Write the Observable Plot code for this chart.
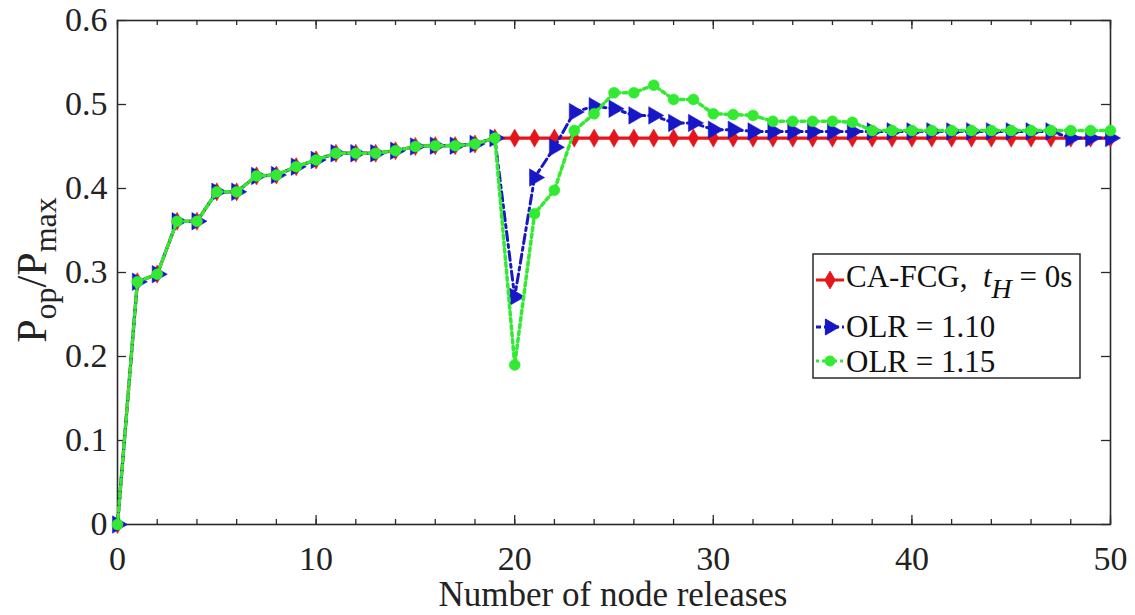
<!DOCTYPE html>
<html>
<head>
<meta charset="utf-8">
<script src="https://cdn.jsdelivr.net/npm/d3@7"></script>
<script src="https://cdn.jsdelivr.net/npm/@observablehq/plot@0.6"></script>
<style>
  html, body { margin: 0; padding: 0; background: #fff; }
  svg { display: block; }
  svg text { font-family: 'Liberation Serif', 'Times New Roman', serif; }
</style>
</head>
<body>
<div id="chart"></div>
<script>
// Number of node releases (x categories)
const releases = [0,1,2,3,4,5,6,7,8,9,10,11,12,13,14,15,16,17,18,19,20,21,22,23,24,25,26,27,28,29,30,31,32,33,34,35,36,37,38,39,40,41,42,43,44,45,46,47,48,49,50];

// CA-FCG, t_H = 0s
const caFcg = [0,0.289,0.298,0.361,0.361,0.396,0.396,0.415,0.416,0.426,0.434,0.442,0.442,0.442,0.445,0.450,0.451,0.451,0.453,0.460,
  0.460,0.460,0.460,0.460,0.460,0.460,0.460,0.460,0.460,0.460,0.460,0.460,0.460,0.460,0.460,0.460,0.460,0.460,0.460,0.460,
  0.460,0.460,0.460,0.460,0.460,0.460,0.460,0.460,0.460,0.460,0.460];

// OLR = 1.10
const olr110 = [0,0.289,0.298,0.361,0.361,0.396,0.396,0.415,0.416,0.426,0.434,0.442,0.442,0.442,0.445,0.450,0.451,0.451,0.453,0.460,
  0.271,0.413,0.449,0.491,0.498,0.495,0.487,0.487,0.478,0.478,0.470,0.470,0.468,0.468,0.468,0.468,0.468,0.468,0.468,0.468,
  0.468,0.468,0.468,0.468,0.468,0.468,0.468,0.468,0.460,0.460,0.460];

// OLR = 1.15
const olr115 = [0,0.289,0.298,0.361,0.361,0.396,0.396,0.415,0.416,0.426,0.434,0.442,0.442,0.442,0.445,0.450,0.451,0.451,0.453,0.460,
  0.190,0.370,0.398,0.469,0.489,0.514,0.514,0.523,0.506,0.506,0.489,0.488,0.487,0.480,0.480,0.480,0.480,0.479,0.469,0.469,
  0.469,0.469,0.469,0.469,0.469,0.469,0.469,0.469,0.469,0.469,0.469];

const xMinorTicks = [0,2,4,6,8,10,12,14,16,18,20,22,24,26,28,30,32,34,36,38,40,42,44,46,48,50];
const xMajorTicks = [0,10,20,30,40,50];
const yTicks = [0,0.1,0.2,0.3,0.4,0.5,0.6];
const yTickLabels = ["0","0.1","0.2","0.3","0.4","0.5","0.6"];

const seriesNames = ["CA-FCG", "OLR = 1.10", "OLR = 1.15"];
const RED = "#e3161b", BLUE = "#1717c8", GREEN = "#33ea33";

const toRows = (vals) => releases.map((x, i) => ({x, y: vals[i]}));
const redRows = toRows(caFcg), blueRows = toRows(olr110), greenRows = toRows(olr115);

const FONT = "'Liberation Serif', 'Times New Roman', serif";
const W = 1135, H = 615, ML = 117, MR = 25, MT = 20, MB = 91;
const PW = W - ML - MR, PH = H - MT - MB;

const plot = Plot.plot({
  width: W,
  height: H,
  marginLeft: ML,
  marginRight: MR,
  marginTop: MT,
  marginBottom: MB,
  style: `font-family: ${FONT}; font-size: 34px; color: #222; background: #fff;`,
  x: {domain: [0, 50]},
  y: {domain: [0, 0.6]},
  marks: [
    // tick labels
    Plot.axisX(xMajorTicks, {anchor: "bottom", tickSize: 0, tickPadding: 21, tickFormat: d => String(d), label: null, fontSize: 34, fontFamily: FONT, fill: "#222"}),
    Plot.axisY(yTicks, {anchor: "left", tickSize: 0, tickPadding: 10, tickFormat: (d, i) => yTickLabels[i], label: null, fontSize: 34, fontFamily: FONT, fill: "#222"}),
    // inward tick marks on all four sides
    Plot.tickX(xMinorTicks, {x: d => d, stroke: "#2a2a2a", strokeWidth: 1.3, insetTop: PH - 5}),
    Plot.tickX(xMinorTicks, {x: d => d, stroke: "#2a2a2a", strokeWidth: 1.3, insetBottom: PH - 5}),
    Plot.tickX(xMajorTicks, {x: d => d, stroke: "#2a2a2a", strokeWidth: 1.3, insetTop: PH - 9}),
    Plot.tickX(xMajorTicks, {x: d => d, stroke: "#2a2a2a", strokeWidth: 1.3, insetBottom: PH - 9}),
    Plot.tickY(yTicks, {y: d => d, stroke: "#2a2a2a", strokeWidth: 1.3, insetRight: PW - 9}),
    Plot.tickY(yTicks, {y: d => d, stroke: "#2a2a2a", strokeWidth: 1.3, insetLeft: PW - 9}),
    Plot.frame({stroke: "#2a2a2a", strokeWidth: 1.6}),
    // CA-FCG
    Plot.line(redRows, {x: "x", y: "y", stroke: RED, strokeWidth: 3.2}),
    Plot.dot(redRows, {x: "x", y: "y", symbol: "diamond", r: 5.5, fill: RED, stroke: RED, strokeWidth: 0.5}),
    // OLR = 1.10
    Plot.line(blueRows, {x: "x", y: "y", stroke: BLUE, strokeWidth: 3, strokeDasharray: "9,4,3,4"}),
    Plot.dot(blueRows, {x: "x", y: "y", symbol: "triangle", rotate: 90, r: 6.5, fill: BLUE, stroke: BLUE, strokeWidth: 0.5}),
    // OLR = 1.15
    Plot.line(greenRows, {x: "x", y: "y", stroke: GREEN, strokeWidth: 3.5, strokeDasharray: "3.5,3.5"}),
    Plot.dot(greenRows, {x: "x", y: "y", symbol: "circle", r: 5.5, fill: GREEN, stroke: GREEN, strokeWidth: 0.5})
  ]
});

document.getElementById("chart").appendChild(plot);

// Axis titles
const svg = d3.select(plot);
svg.append("text")
  .attr("x", 613).attr("y", 606)
  .attr("text-anchor", "middle")
  .style("font-family", FONT).style("font-size", "35px").attr("fill", "#222")
  .text("Number of node releases");

const yl = svg.append("text")
  .attr("transform", "translate(46,270) rotate(-90)")
  .attr("text-anchor", "middle")
  .style("font-family", FONT).style("font-size", "42px").attr("fill", "#222");
yl.append("tspan").text("P");
yl.append("tspan").attr("dy", 10).style("font-size", "32px").text("op");
yl.append("tspan").attr("dy", -10).text("/P");
yl.append("tspan").attr("dy", 10).style("font-size", "32px").text("max");

// Legend
const lg = svg.append("g").style("font-family", FONT).style("font-size", "31px").attr("text-anchor", "start");
lg.append("rect").attr("x", 813).attr("y", 254).attr("width", 267).attr("height", 124)
  .attr("fill", "#fff").attr("stroke", "#2a2a2a").attr("stroke-width", 1.5);
const entries = [
  {name: seriesNames[0], color: RED, dash: null, sym: d3.symbolDiamond, rot: 0, size: 90, cy: 280, base: 287},
  {name: seriesNames[1], color: BLUE, dash: "5,3,2,3", sym: d3.symbolTriangle, rot: 90, size: 110, cy: 327, base: 337},
  {name: seriesNames[2], color: GREEN, dash: "3,3", sym: d3.symbolCircle, rot: 0, size: 80, cy: 361, base: 372}
];
entries.forEach(e => {
  lg.append("line").attr("x1", 816).attr("x2", 844).attr("y1", e.cy).attr("y2", e.cy)
    .attr("stroke", e.color).attr("stroke-width", 3).attr("stroke-dasharray", e.dash);
  lg.append("path").attr("d", d3.symbol(e.sym, e.size)())
    .attr("transform", `translate(830,${e.cy}) rotate(${e.rot})`)
    .attr("fill", e.color).attr("stroke", e.color);
  const t = lg.append("text").attr("x", 846).attr("y", e.base).attr("fill", "#111").attr("text-anchor", "start");
  if (e === entries[0]) {
    t.append("tspan").text("CA-FCG,\u00a0\u00a0");
    t.append("tspan").style("font-style", "italic").text("t");
    t.append("tspan").attr("dy", 11).style("font-style", "italic").style("font-size", "28px").text("H");
    t.append("tspan").attr("dy", -11).text(" = 0s");
  } else {
    t.text(e.name);
  }
});
</script>
</body>
</html>
